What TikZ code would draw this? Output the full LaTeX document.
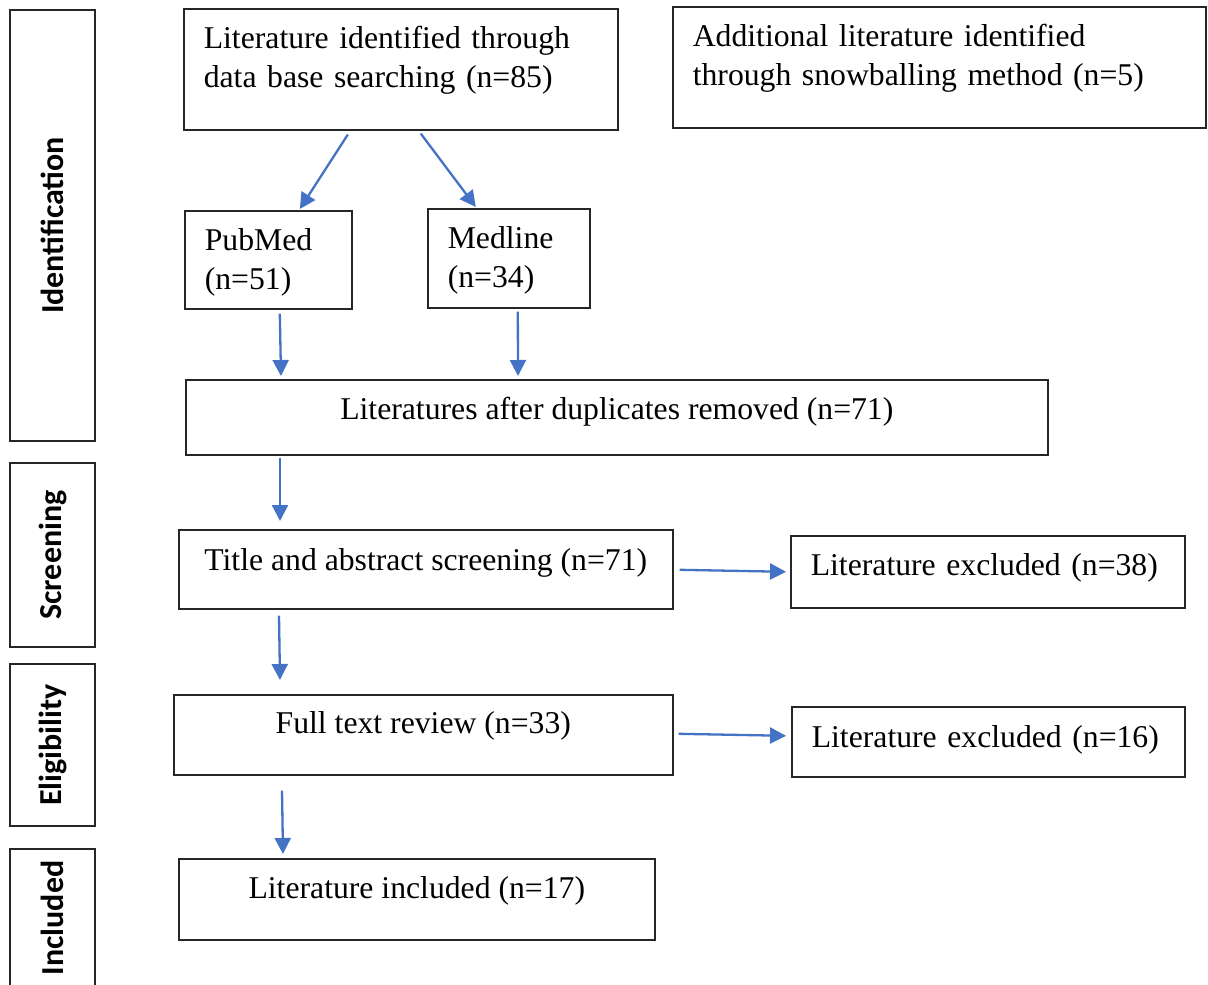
\documentclass[tikz,border=0pt]{standalone}
\usepackage{fontspec}
\setmainfont{Liberation Serif}
\newfontfamily\sidefont{Carlito}
\usetikzlibrary{arrows.meta,calc}
\definecolor{flowblue}{HTML}{4472C4}
\begin{document}
\begin{tikzpicture}[x=0.5pt,y=-0.5pt,
  box/.style={draw=black!85,line width=0.8pt,anchor=north west,inner xsep=10pt,inner ysep=2pt,font=\fontsize{15.85}{19.5}\selectfont},
  lbox/.style={box,align=left},
  cbox/.style={box,align=center},
  side/.style={draw=black!85,line width=0.8pt,rotate=90,minimum height=42.5pt,font=\sidefont\bfseries\fontsize{16}{19}\selectfont},
  flow/.style={flowblue,line width=1.15pt,-{Triangle[length=8pt,width=8pt]}}]
\useasboundingbox (0,0) rectangle (1208,984);
% stages on the left
\node[side,minimum width=215.5pt] (idn) at (52.5,225.5) {Identification};
\node[side,minimum width=92pt] (scr) at (52.5,555) {Screening};
\node[side,minimum width=81pt] (elg) at (52.5,745) {Eligibility};
\node[side,minimum width=69pt] (inc) at (52.5,918) {Included};
% boxes
\node[lbox,minimum width=217pt,minimum height=60.5pt,text width=197pt,text height=10pt,text depth=30.5pt] (lit) at (183,8) {Literature identified through\\data base searching (n=85)};
\node[lbox,minimum width=266.5pt,minimum height=60.5pt,text width=246.5pt,text height=10pt,text depth=30.5pt] (snow) at (672,6) {Additional literature identified\\through snowballing method (n=5)};
\node[lbox,minimum width=83.5pt,minimum height=49pt,text width=63.5pt,text height=10pt,text depth=19pt] (pubmed) at (184,210) {PubMed\\(n=51)};
\node[lbox,minimum width=81pt,minimum height=49.5pt,text width=61pt,text height=10pt,text depth=19.5pt] (medline) at (427,208) {Medline\\(n=34)};
\node[cbox,minimum width=431pt,minimum height=37.5pt,text height=8pt,text depth=5.5pt] (dedup) at (185,379) {Literatures after duplicates removed (n=71)};
\node[cbox,minimum width=247pt,minimum height=39.5pt,text height=8pt,text depth=6.5pt] (screen) at (178,529) {Title and abstract screening (n=71)};
\node[lbox,minimum width=197pt,minimum height=36pt,text width=177pt,text height=8pt,text depth=4pt] (excl1) at (790,535) {Literature excluded (n=38)};
\node[cbox,minimum width=249.5pt,minimum height=40pt,text height=8pt,text depth=9pt] (fulltext) at (173,694) {Full text review (n=33)};
\node[lbox,minimum width=196.5pt,minimum height=35pt,text width=176.5pt,text height=8pt,text depth=2pt] (excl2) at (791,706) {Literature excluded (n=16)};
\node[cbox,minimum width=238pt,minimum height=40.5pt,text height=8pt,text depth=8.5pt] (incl) at (178,858) {Literature included (n=17)};
% arrows
\draw[flow] ($(lit.south)+(-53,4)$) -- ($(pubmed.north)+(31.5,-1)$);
\draw[flow] ($(lit.south)+(20,3)$) -- ($(medline.north)+(-33,-1)$);
\draw[flow] ($(pubmed.south)+(11.5,4)$) -- ($(dedup.north west)+(96,-3)$);
\draw[flow] ($(medline.south)+(9,3)$) -- ($(dedup.north west)+(333,-3)$);
\draw[flow] ($(dedup.south west)+(95,2)$) -- ($(screen.north west)+(102,-8)$);
\draw[flow] ($(screen.south west)+(101,6)$) -- ($(fulltext.north west)+(107,-14)$);
\draw[flow] ($(fulltext.south west)+(109,15)$) -- ($(incl.north west)+(105,-4)$);
\draw[flow] ($(screen.east)+(6,0.5)$) -- ($(excl1.west)+(-4,0)$);
\draw[flow] ($(fulltext.east)+(5,-1)$) -- ($(excl2.west)+(-5,-6)$);
\end{tikzpicture}
\end{document}
